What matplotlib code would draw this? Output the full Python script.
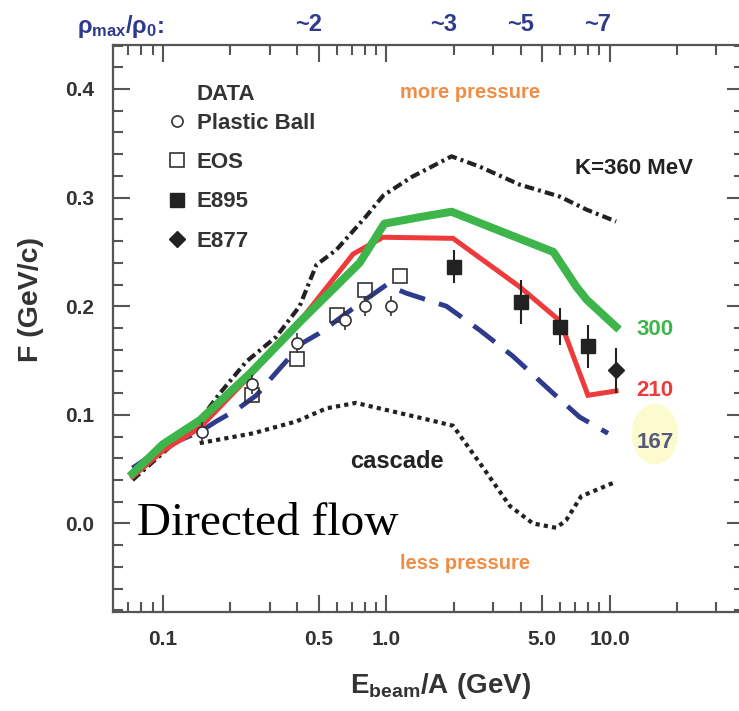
import matplotlib
matplotlib.use("Agg")
import matplotlib.pyplot as plt
from matplotlib.lines import Line2D
from matplotlib.patches import Ellipse

# model curves (E_beam/A in GeV, F in GeV/c)
k300_x = [0.073, 0.1, 0.146, 0.245, 0.417, 0.76, 0.98, 1.41, 1.96, 3.45, 5.6, 7.1, 7.9, 10.7]
k300_y = [0.046, 0.073, 0.095, 0.138, 0.187, 0.240, 0.276, 0.282, 0.287, 0.267, 0.250, 0.218, 0.206, 0.181]

k210_x = [0.073, 0.1, 0.146, 0.245, 0.417, 0.71, 0.966, 1.99, 3.95, 5.8, 6.3, 8.0, 10.7]
k210_y = [0.043, 0.067, 0.088, 0.136, 0.188, 0.248, 0.2635, 0.2625, 0.218, 0.189, 0.175, 0.118, 0.122]

k167_x = [0.073, 0.1, 0.148, 0.173, 0.213, 0.262, 0.30, 0.42, 0.50, 0.71, 1.0, 1.23, 1.86, 2.62, 3.69, 5.58, 7.34, 9.84]
k167_y = [0.051, 0.070, 0.085, 0.094, 0.1045, 0.118, 0.132, 0.166, 0.175, 0.198, 0.2196, 0.212, 0.200, 0.178, 0.154, 0.120, 0.098, 0.083]

k360_x = [0.073, 0.146, 0.18, 0.236, 0.322, 0.409, 0.486, 0.598, 0.81, 0.97, 1.3, 1.96, 2.62, 3.95, 5.98, 7.87, 10.7]
k360_y = [0.040, 0.095, 0.120, 0.149, 0.172, 0.200, 0.238, 0.252, 0.2825, 0.302, 0.319, 0.338, 0.3285, 0.312, 0.301, 0.289, 0.278]

casc_x = [0.146, 0.253, 0.396, 0.54, 0.73, 1.0, 1.37, 1.99, 2.7, 3.58, 4.54, 5.77, 6.39, 7.46, 10.7]
casc_y = [0.074, 0.083, 0.094, 0.106, 0.111, 0.1045, 0.098, 0.090, 0.052, 0.016, 0.000, -0.004, 0.003, 0.025, 0.0385]

# data
pb_x = [0.15, 0.25, 0.4, 0.65, 0.8, 1.05]
pb_y = [0.084, 0.128, 0.166, 0.187, 0.200, 0.200]
pb_err = [0.009, 0.009, 0.009, 0.009, 0.009, 0.009]

eos_x = [0.25, 0.4, 0.6, 0.8, 1.15]
eos_y = [0.118, 0.151, 0.192, 0.215, 0.228]

e895_x = [2.0, 4.0, 6.0, 8.0]
e895_y = [0.2365, 0.204, 0.181, 0.163]
e895_err = [0.015, 0.020, 0.017, 0.020]

e877_x = [10.7]
e877_y = [0.141]
e877_err = [0.021]

rho_x = [0.45, 1.8, 4.0, 8.8]
rho_labels = ["~2", "~3", "~5", "~7"]

W, H = 739, 711


def fx(px):
    return px / W


def fy(py):
    return 1 - py / H


plt.rcParams["font.family"] = ["Liberation Sans", "DejaVu Sans"]
plt.rcParams["font.weight"] = "bold"
plt.rcParams["mathtext.fontset"] = "custom"
plt.rcParams["mathtext.rm"] = "Liberation Sans:bold"
plt.rcParams["mathtext.it"] = "Liberation Sans:bold"
plt.rcParams["mathtext.bf"] = "Liberation Sans:bold"

dark = "#333333"
green = "#3db54a"
red = "#ee3a3a"
navy = "#2e3a8c"
orange = "#f08c44"

fig = plt.figure(figsize=(W / 100, H / 100), dpi=100)
ax = fig.add_axes([fx(112.5), fy(612), (744 - 112.5) / W, (612 - 45) / H])
ax.set_facecolor("none")

# yellow highlight behind the "167" label
fig.add_artist(Ellipse((fx(655), fy(434)), 45 / W, 59 / H, color="#fbfbcf", zorder=-1))

ax.plot(casc_x, casc_y, color="#222222", lw=3, dashes=(1, 1), zorder=2)
ax.plot(k167_x, k167_y, color=navy, lw=3.5, dashes=(5.5, 3), zorder=3)
ax.plot(k360_x, k360_y, color="#222222", lw=3, dashes=(2.3, 1, 0.7, 1), zorder=3)
ax.plot(k210_x, k210_y, color=red, lw=3.6, zorder=4, solid_joinstyle="miter")
ax.plot(k300_x, k300_y, color=green, lw=5.8, zorder=5)

ax.errorbar(pb_x, pb_y, yerr=pb_err, fmt="o", ms=8, mfc="white", mec=dark,
            mew=1.2, ecolor=dark, elinewidth=1.2, capsize=0, zorder=6)
ax.plot(eos_x, eos_y, "s", ms=10, mfc="none", mec=dark, mew=1.2, zorder=6)
ax.errorbar(e895_x, e895_y, yerr=e895_err, fmt="s", ms=9.5, color="#222222",
            elinewidth=1.5, capsize=0, zorder=7)
ax.errorbar(e877_x, e877_y, yerr=e877_err, fmt="D", ms=8, color="#222222",
            elinewidth=1.5, capsize=0, zorder=7)

ax.set_xscale("log")
ax.set_xlim(0.0594, 40)
ax.set_ylim(-0.0815, 0.4405)
ax.set_xticks([0.1, 0.5, 1.0, 5.0, 10.0])
ax.set_xticklabels(["0.1", "0.5", "1.0", "5.0", "10.0"])
ax.set_xticks([0.07, 0.08, 0.09, 0.2, 0.3, 0.4, 0.6, 0.7, 0.8, 0.9,
               2, 3, 4, 6, 7, 8, 9, 20, 30], minor=True)
ax.set_yticks([0.0, 0.1, 0.2, 0.3, 0.4])
ax.set_yticklabels(["0.0", "0.1", "0.2", "0.3", "0.4"])
ax.set_yticks([-0.08, -0.06, -0.04, -0.02, 0.02, 0.04, 0.06, 0.08, 0.12, 0.14, 0.16,
               0.18, 0.22, 0.24, 0.26, 0.28, 0.32, 0.34, 0.36, 0.38, 0.42, 0.44], minor=True)
ax.tick_params(which="both", direction="in", top=True, right=True, color="#555555", width=1.5)
ax.tick_params(which="major", length=12, labelsize=15, labelcolor=dark, pad=13)
ax.tick_params(which="minor", length=7.5)
for s in ax.spines.values():
    s.set_color("#555555")
    s.set_linewidth(1.6)

# axis labels
fig.text(fx(440), fy(686), r"$\mathrm{E_{beam}/A\ (GeV)}$", fontsize=20, color=dark,
         ha="center", va="center")
fig.text(fx(31), fy(300), "F (GeV/c)", fontsize=20.5, color=dark, rotation=90,
         ha="center", va="center")

# legend
fig.text(fx(197), fy(94), "DATA", fontsize=16, color=dark, va="center")
handles = [
    Line2D([], [], ls="none", marker="o", ms=8, mfc="white", mec=dark, mew=1.2),
    Line2D([], [], ls="none", marker="s", ms=10, mfc="white", mec=dark, mew=1.2),
    Line2D([], [], ls="none", marker="s", ms=9.5, color="#222222"),
    Line2D([], [], ls="none", marker="D", ms=8, color="#222222"),
]
leg = ax.legend(handles, ["Plastic Ball", "EOS", "E895", "E877"], loc="upper left",
                bbox_to_anchor=((168 - 112.5) / (744 - 112.5), (612 - 113) / 567),
                frameon=False, fontsize=16, handlelength=0.8, handletextpad=0.5,
                labelspacing=0.82, borderpad=0, borderaxespad=0)
for t in leg.get_texts():
    t.set_color(dark)

# annotations
ax.text(6.98, 0.3264, "K=360 MeV", fontsize=16, color="#222222", va="center")
ax.text(1.147, 0.397, "more pressure", fontsize=14.5, color=orange, va="center")
ax.text(1.147, -0.0364, "less pressure", fontsize=14.5, color=orange, va="center")
ax.text(0.686, 0.0566, "cascade", fontsize=17, color="#222222", va="center")
ax.text(13.2, 0.179, "300", fontsize=16, color=green, va="center")
ax.text(13.2, 0.122, "210", fontsize=16, color=red, va="center")
fig.text(fx(655), fy(442), "167", fontsize=16, color="#555a78", ha="center", va="center")

fig.text(fx(137), fy(535), "Directed flow", fontsize=34, color="black", fontweight="normal",
         family=["Liberation Serif", "DejaVu Serif"], va="baseline")

# rho_max / rho_0 row
fig.text(fx(77), fy(26), r"$\rho_{\mathrm{max}}/\rho_{0}$:", fontsize=17, color=navy, va="center")
for xv, lab in zip(rho_x, rho_labels):
    ax.text(xv, (612 - 24.5) / 567, lab, fontsize=17, color=navy, ha="center", va="center",
            transform=ax.get_xaxis_transform(), clip_on=False)

fig.savefig("out.png", dpi=100)
